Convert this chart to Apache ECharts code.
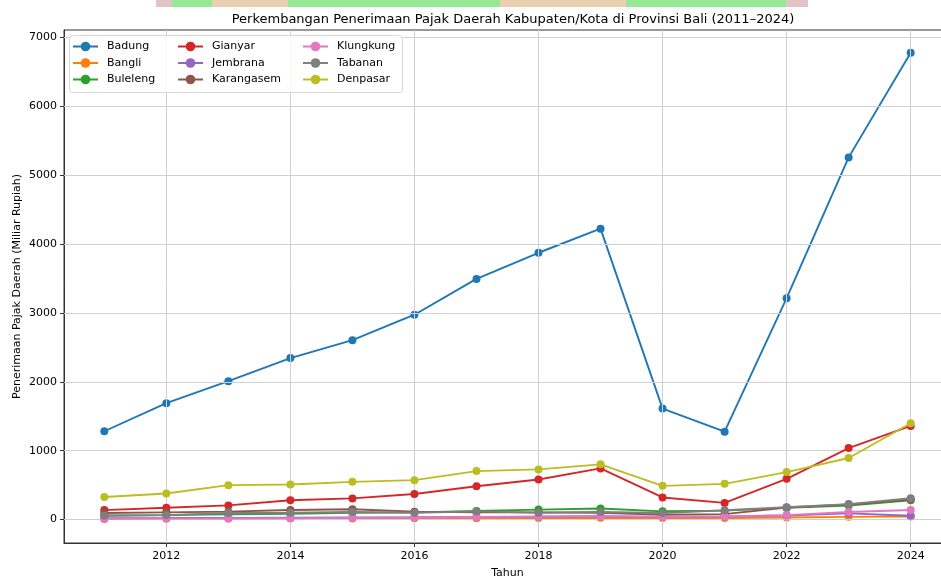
<!DOCTYPE html>
<html><head><meta charset="utf-8">
<script src="https://cdn.jsdelivr.net/npm/echarts@6/dist/echarts.min.js"></script>
<style>html,body{margin:0;padding:0;background:#fff}#c{width:941px;height:576px}</style>
</head><body><div id="c"></div>
<script>
const years = [2011,2012,2013,2014,2015,2016,2017,2018,2019,2020,2021,2022,2023,2024];
const names = ['Badung','Bangli','Buleleng','Gianyar','Jembrana','Karangasem','Klungkung','Tabanan','Denpasar'];
const badung     = [1283,1690,2010,2345,2605,2975,3495,3875,4225,1612,1277,3215,5260,6780];
const bangli     = [10,12,14,15,17,18,20,22,25,22,24,30,40,45];
const buleleng   = [60,65,78,85,100,105,125,145,160,120,130,170,205,280];
const gianyar    = [138,172,206,281,308,371,485,583,743,321,242,592,1039,1360];
const jembrana   = [20,22,25,28,30,33,38,42,48,40,45,60,90,55];
const karangasem = [95,105,115,140,150,115,105,105,100,70,80,175,220,290];
const klungkung  = [12,14,16,20,25,30,38,45,50,40,45,65,110,140];
const tabanan    = [55,65,95,100,110,100,120,100,110,95,135,180,225,310];
const denpasar   = [329,379,500,510,548,573,704,729,802,490,519,690,894,1399];
const yTicks = [0,1000,2000,3000,4000,5000,6000,7000];
const xTicks = [2012,2014,2016,2018,2020,2022,2024];

const values = [badung,bangli,buleleng,gianyar,jembrana,karangasem,klungkung,tabanan,denpasar];
const colors = ['#1f77b4','#ff7f0e','#2ca02c','#d62728','#9467bd','#8c564b','#e377c2','#7f7f7f','#bcbd22'];
const FONT = 'DejaVu Sans';

const series = names.map((n,i)=>({
  name:n, type:'line', data: years.map((y,j)=>[y, values[i][j]]),
  symbol:'circle', symbolSize:8, showSymbol:true,
  lineStyle:{width:1.9,color:colors[i]}, itemStyle:{color:colors[i]},
  z: 3+i, emphasis:{disabled:true}, animation:false
}));
series.unshift({
  name:'_grid', type:'line', data:[], z:1, silent:true, animation:false,
  markLine:{silent:true, symbol:'none', animation:false, label:{show:false},
    lineStyle:{color:'#d0d0d0', width:1, type:'solid'},
    data: yTicks.map(v=>({yAxis:v})).concat(xTicks.map(v=>({xAxis:v})))}
});

function legendCol(items,left){
  return {data:items, orient:'vertical', left:left, top:41, padding:0, itemWidth:25, itemHeight:12, itemGap:5.5,
    textStyle:{fontFamily:FONT,fontSize:11,color:'#000',padding:[0,0,0,4]}, selectedMode:false, z:10};
}

const chart = echarts.init(document.getElementById('c'), null, {renderer:'canvas'});
chart.setOption({
  animation:false,
  backgroundColor:'#fff',
  title:{text:'Perkembangan Penerimaan Pajak Daerah Kabupaten/Kota di Provinsi Bali (2011–2024)',
    left:508, top:8, textAlign:'center',
    textStyle:{fontFamily:FONT,fontSize:13,fontWeight:'normal',color:'#000'}},
  graphic:[
    {type:'rect', shape:{x:156,y:0,width:652,height:7}, style:{fill:'#e2c4c4'}, z:0},
    {type:'rect', shape:{x:172,y:0,width:614,height:7}, style:{fill:'#96e896'}, z:0},
    {type:'rect', shape:{x:212,y:0,width:76,height:7}, style:{fill:'#ead0b0'}, z:0},
    {type:'rect', shape:{x:500,y:0,width:126,height:7}, style:{fill:'#ead0b0'}, z:0},
    {type:'rect', shape:{x:69.5,y:35.5,width:333,height:57,r:3}, style:{fill:'rgba(255,255,255,0.85)',stroke:'#d6d6d6',lineWidth:1}, z:9}
  ],
  legend:[legendCol(names.slice(0,3),72), legendCol(names.slice(3,6),177), legendCol(names.slice(6,9),302)],
  grid:{left:64, right:-10, top:30, bottom:33, outerBoundsMode:'none', containLabel:false,
    show:true, borderColor:'#333', borderWidth:1, backgroundColor:'transparent'},
  xAxis:{type:'value', min:2010.35, max:2024.65,
    name:'Tahun', nameLocation:'middle', nameGap:25, nameMoveOverlap:false,
    nameTextStyle:{fontFamily:FONT,fontSize:11,color:'#000'},
    axisLine:{show:true,onZero:false,lineStyle:{color:'#333',width:1}},
    axisTick:{show:true,length:4,customValues:xTicks,lineStyle:{color:'#333'}},
    axisLabel:{customValues:xTicks,fontFamily:FONT,fontSize:11,color:'#000',margin:8,formatter:v=>String(Math.round(v))},
    splitLine:{show:false}},
  yAxis:{type:'value', min:-340, max:7110,
    name:'Penerimaan Pajak Daerah (Miliar Rupiah)', nameLocation:'middle', nameGap:41, nameMoveOverlap:false,
    nameTextStyle:{fontFamily:FONT,fontSize:11,color:'#000'},
    axisLine:{show:true,onZero:false,lineStyle:{color:'#333',width:1}},
    axisTick:{show:true,length:4,customValues:yTicks,lineStyle:{color:'#333'}},
    axisLabel:{customValues:yTicks,fontFamily:FONT,fontSize:11,color:'#000',margin:7,formatter:v=>String(Math.round(v))},
    splitLine:{show:false}},
  series:series
});
</script></body></html>
